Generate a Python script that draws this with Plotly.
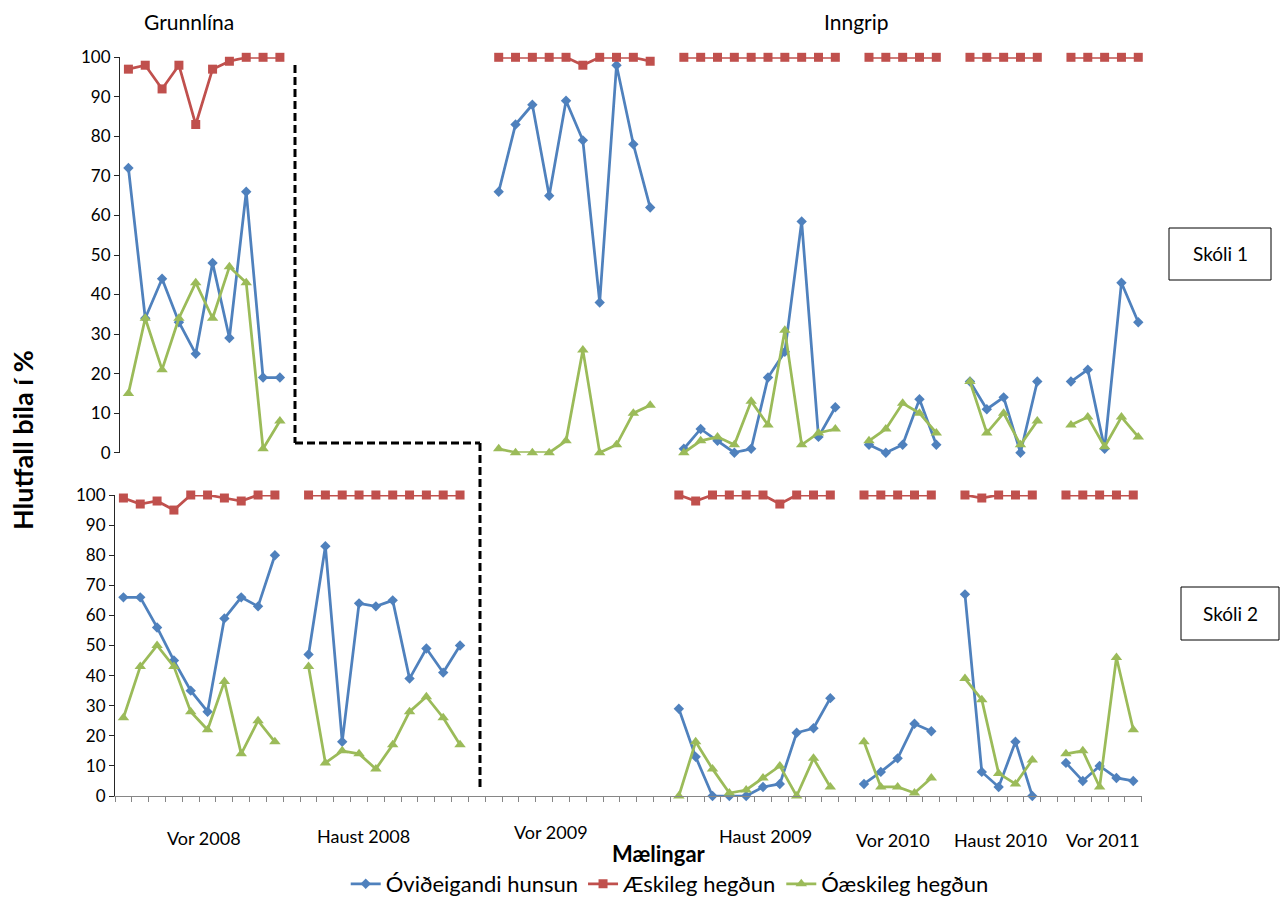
import plotly.graph_objects as go

W, H = 1283, 899
FONT = "Lato, 'Open Sans', sans-serif"

periods = ["Vor 2008", "Haust 2008", "Vor 2009", "Haust 2009", "Vor 2010", "Haust 2010", "Vor 2011"]
sessions = [10, 10, 10, 10, 5, 5, 5]
y_ticks = [0, 10, 20, 30, 40, 50, 60, 70, 80, 90, 100]
series_names = ["Óviðeigandi hunsun", "Æskileg hegðun", "Óæskileg hegðun"]

# Skóli 1 (efri mynd) - one list per period, empty = no measurement
s1_ovid = [
    [72, 34, 44, 33, 25, 48, 29, 66, 19, 19],
    [],
    [66, 83, 88, 65, 89, 79, 38, 98, 78, 62],
    [1, 6, 3, 0, 1, 19, 25.5, 58.5, 4, 11.5],
    [2, 0, 2, 13.5, 2],
    [18, 11, 14, 0, 18],
    [18, 21, 1, 43, 33],
]
s1_aesk = [
    [97, 98, 92, 98, 83, 97, 99, 100, 100, 100],
    [],
    [100, 100, 100, 100, 100, 98, 100, 100, 100, 99],
    [100, 100, 100, 100, 100, 100, 100, 100, 100, 100],
    [100, 100, 100, 100, 100],
    [100, 100, 100, 100, 100],
    [100, 100, 100, 100, 100],
]
s1_oaesk = [
    [15, 34, 21, 34, 43, 34, 47, 43, 1, 8],
    [],
    [1, 0, 0, 0, 3, 26, 0, 2, 10, 12],
    [0, 3, 4, 2, 13, 7, 31, 2, 5, 6],
    [3, 6, 12.5, 10, 5],
    [18, 5, 10, 2, 8],
    [7, 9, 1.5, 9, 4],
]

# Skóli 2 (neðri mynd)
s2_ovid = [
    [66, 66, 56, 45, 35, 28, 59, 66, 63, 80],
    [47, 83, 18, 64, 63, 65, 39, 49, 41, 50],
    [],
    [29, 13, 0, 0, 0, 3, 4, 21, 22.5, 32.5],
    [4, 8, 12.5, 24, 21.5],
    [67, 8, 3, 18, 0],
    [11, 5, 10, 6, 5],
]
s2_aesk = [
    [99, 97, 98, 95, 100, 100, 99, 98, 100, 100],
    [100, 100, 100, 100, 100, 100, 100, 100, 100, 100],
    [],
    [100, 98, 100, 100, 100, 100, 97, 100, 100, 100],
    [100, 100, 100, 100, 100],
    [100, 99, 100, 100, 100],
    [100, 100, 100, 100, 100],
]
s2_oaesk = [
    [26, 43, 50, 43, 28, 22, 38, 14, 25, 18],
    [43, 11, 15, 14, 9, 17, 28, 33, 26, 17],
    [],
    [0, 18, 9, 1, 2, 6, 10, 0, 12.5, 3],
    [18, 3, 3, 1, 6],
    [39, 32, 7.5, 4, 12],
    [14, 15, 3, 46, 22],
]

COLORS = ["#4F81BD", "#C0504D", "#9BBB59"]
SYMBOLS = ["diamond", "square", "triangle-up"]
SIZES = [8, 9, 10]


def flatten(blocks):
    """Concatenate periods with one empty category between them."""
    vals = []
    for i, (block, n) in enumerate(zip(blocks, sessions)):
        if i:
            vals.append(None)
        vals += list(block) + [None] * (n - len(block))
    return vals


def px(x):
    return x / W


def py(y):
    return 1 - y / H


fig = go.Figure()

for k, data in enumerate([s1_ovid, s1_aesk, s1_oaesk]):
    vals = flatten(data)
    fig.add_trace(go.Scatter(
        x=list(range(len(vals))), y=vals, name=series_names[k],
        mode="lines+markers", xaxis="x2", yaxis="y2",
        line=dict(color=COLORS[k], width=2.75),
        marker=dict(symbol=SYMBOLS[k], size=SIZES[k], color=COLORS[k]),
        connectgaps=False, cliponaxis=False, legendrank=k,
    ))

for k, data in enumerate([s2_ovid, s2_aesk, s2_oaesk]):
    vals = flatten(data)
    fig.add_trace(go.Scatter(
        x=list(range(len(vals))), y=vals, name=series_names[k],
        mode="lines+markers", xaxis="x", yaxis="y",
        line=dict(color=COLORS[k], width=2.75),
        marker=dict(symbol=SYMBOLS[k], size=SIZES[k], color=COLORS[k]),
        connectgaps=False, cliponaxis=False, showlegend=False,
    ))

n_cat = len(flatten(s1_ovid))
yax = dict(
    range=[0, 100], tickvals=y_ticks, showline=True, linecolor="#262626", linewidth=1,
    ticks="outside", ticklen=5, tickcolor="#262626", showgrid=False, zeroline=False,
    tickfont=dict(size=17, color="#000"),
)

fig.update_layout(
    width=W, height=H,
    margin=dict(l=0, r=0, t=0, b=0, autoexpand=False),
    plot_bgcolor="white", paper_bgcolor="white",
    font=dict(family=FONT, color="#000"),
    xaxis=dict(
        domain=[px(115), px(1141.7)], range=[-0.5, n_cat - 0.5], anchor="y",
        tickmode="linear", tick0=-0.5, dtick=1, showticklabels=False,
        ticks="outside", ticklen=5, tickcolor="#868686",
        showline=True, linecolor="#868686", showgrid=False, zeroline=False,
    ),
    yaxis=dict(domain=[py(796), py(495)], anchor="x", **yax),
    xaxis2=dict(
        domain=[px(120), px(1146.7)], range=[-0.5, n_cat - 0.5], anchor="y2",
        visible=False,
    ),
    yaxis2=dict(domain=[py(452.7), py(57.3)], anchor="x2", **yax),
    legend=dict(
        orientation="h", x=0.522, xanchor="center", y=py(884), yanchor="middle",
        font=dict(size=22), itemwidth=30, tracegroupgap=0,
    ),
    showlegend=True,
)

# period labels under the axis
label_pos = [(204, 838), (363, 836), (551, 832), (765, 836), (893, 840), (1000, 840), (1103, 840)]
for name, (lx, ly) in zip(periods, label_pos):
    fig.add_annotation(x=px(lx), y=py(ly), xref="paper", yref="paper", text=name,
                       showarrow=False, font=dict(size=18), xanchor="center", yanchor="middle")

fig.add_annotation(x=px(189), y=py(22), xref="paper", yref="paper", text="Grunnlína",
                   showarrow=False, font=dict(size=21), xanchor="center", yanchor="middle")
fig.add_annotation(x=px(856), y=py(22), xref="paper", yref="paper", text="Inngrip",
                   showarrow=False, font=dict(size=21), xanchor="center", yanchor="middle")
fig.add_annotation(x=px(659), y=py(853), xref="paper", yref="paper", text="<b>Mælingar</b>",
                   showarrow=False, font=dict(size=22), xanchor="center", yanchor="middle")
fig.add_annotation(x=px(23), y=py(440), xref="paper", yref="paper", text="<b>Hlutfall bila í %</b>",
                   showarrow=False, font=dict(size=27), textangle=-90,
                   xanchor="center", yanchor="middle")

# school boxes
for text, (x0, y0, x1, y1) in [("Skóli 1", (1169, 228, 1271, 280)), ("Skóli 2", (1181, 587, 1279, 640))]:
    fig.add_shape(type="rect", xref="paper", yref="paper",
                  x0=px(x0), x1=px(x1), y0=py(y0), y1=py(y1),
                  line=dict(color="#000", width=1), fillcolor="white")
    fig.add_annotation(x=px((x0 + x1) / 2), y=py((y0 + y1) / 2), xref="paper", yref="paper",
                       text=text, showarrow=False, font=dict(size=19),
                       xanchor="center", yanchor="middle")

# baseline / intervention divider
dash_line = dict(color="black", width=3, dash="8px,4px")
for (x0, y0, x1, y1) in [(295, 65, 295, 443), (295, 443, 480, 443), (480, 443, 480, 788)]:
    fig.add_shape(type="line", xref="paper", yref="paper",
                  x0=px(x0), x1=px(x1), y0=py(y0), y1=py(y1), line=dash_line)

fig.write_html("out.html", config={"displayModeBar": False},
               post_script="document.body.style.margin='0';")
